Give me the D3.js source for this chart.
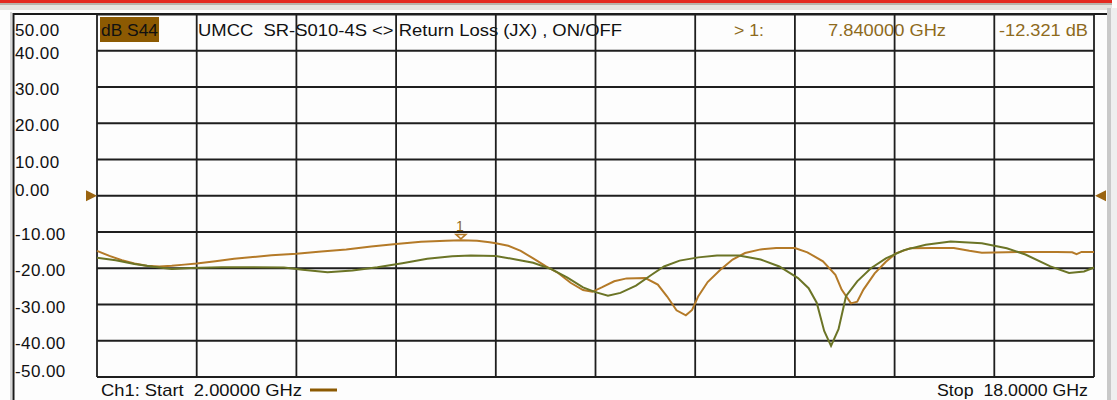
<!DOCTYPE html>
<html>
<head>
<meta charset="utf-8">
<script src="https://cdn.jsdelivr.net/npm/d3@7"></script>
<style>
  body { margin: 0; background: #fdfdfd; }
  svg text { font-family: "Liberation Sans", Arial, sans-serif; white-space: pre; }
</style>
</head>
<body>
<script>
// S44 return loss, two traces, 2 - 18 GHz

var w = 1117;
var h = 400;

// trace 1 (brown, active) - frequency in GHz and level in dB
var freqA = [2.0, 2.2, 2.4, 2.6, 2.8, 3.0, 3.2, 3.4, 3.6, 3.9, 4.2, 4.5, 4.8, 5.2, 5.6, 6.0, 6.4, 6.8, 7.2, 7.6, 7.84,
  8.1, 8.3, 8.4, 8.6, 8.8, 9.0, 9.2, 9.4, 9.6, 9.8, 9.95, 10.1, 10.3, 10.5, 10.8, 11.0, 11.15, 11.3, 11.45, 11.55,
  11.65, 11.8, 12.0, 12.2, 12.4, 12.65, 12.9, 13.2, 13.4, 13.65, 13.85, 13.95, 14.1, 14.2, 14.3, 14.48, 14.66,
  14.82, 15.05, 15.4, 15.75, 16.0, 16.2, 16.8, 17.4, 17.65, 17.72, 17.8, 18.0];
var dbA = [-15.2, -16.6, -17.8, -18.7, -19.3, -19.5, -19.3, -19.0, -18.7, -18.1, -17.4, -16.9, -16.4, -16.0, -15.4,
  -14.8, -14.0, -13.3, -12.7, -12.4, -12.3, -12.4, -12.8, -13.1, -13.8, -15.2, -17.3, -19.4, -21.3, -24.0, -26.0,
  -26.5, -25.3, -23.6, -22.8, -22.7, -24.5, -27.8, -31.6, -33.0, -31.5, -27.7, -23.8, -20.5, -17.6, -15.8, -14.8,
  -14.4, -14.4, -15.6, -18.1, -21.8, -25.9, -29.7, -29.2, -25.9, -21.4, -18.2, -15.9, -14.5, -14.4, -14.4, -15.2,
  -15.7, -15.5, -15.5, -15.6, -16.1, -15.5, -15.5];

// trace 2 (olive)
var freqB = [2.0, 2.3, 2.6, 2.9, 3.2, 3.5, 4.0, 4.5, 5.0, 5.3, 5.7, 6.1, 6.5, 6.9, 7.3, 7.7, 8.0, 8.4, 8.7, 9.0,
  9.3, 9.55, 9.8, 10.0, 10.2, 10.4, 10.65, 10.9, 11.1, 11.35, 11.65, 11.95, 12.3, 12.65, 12.95, 13.25, 13.42,
  13.55, 13.67, 13.78, 13.9, 14.02, 14.2, 14.42, 14.66, 14.95, 15.3, 15.7, 16.2, 16.6, 16.9, 17.3, 17.6, 17.84, 18.0];
var dbB = [-17.1, -17.8, -18.8, -19.6, -20.2, -19.9, -19.7, -19.7, -19.8, -20.4, -21.1, -20.6, -19.7, -18.6, -17.4,
  -16.7, -16.5, -16.6, -17.5, -18.5, -20.3, -22.6, -25.3, -26.6, -27.6, -26.8, -24.8, -21.8, -19.5, -17.9, -17.0,
  -16.5, -16.5, -17.6, -19.5, -22.7, -25.5, -29.5, -37.3, -41.4, -36.8, -27.7, -23.6, -20.0, -17.3, -15.0, -13.5,
  -12.6, -13.1, -14.5, -16.2, -19.5, -21.3, -20.9, -19.8];

// axis ticks and labels
var yTicks = [50, 40, 30, 20, 10, 0, -10, -20, -30, -40, -50];
var yTickLabels = ["50.00", "40.00", "30.00", "20.00", "10.00", "0.00", "-10.00", "-20.00", "-30.00", "-40.00", "-50.00"];
var xTicks = [2.0, 3.6, 5.2, 6.8, 8.4, 10.0, 11.6, 13.2, 14.8, 16.4, 18.0];

// marker
var markerFreq = 7.84;
var markerDb = -12.321;

// header strings
var traceName = "dB S44";
var titleText = "UMCC  SR-S010-4S <> Return Loss (JX) , ON/OFF";
var markerLabel = "> 1:";
var markerFreqText = "7.840000 GHz";
var markerDbText = "-12.321 dB";
var startText = "Ch1: Start  2.00000 GHz";
var stopText = "Stop  18.0000 GHz";

var brown = "#b47a28";
var olive = "#6b7426";
var textBrown = "#8e6a1c";

var svg = d3.select("body")
  .append("svg")
  .attr("width", w)
  .attr("height", h);

var x = d3.scaleLinear().domain([2, 18]).range([97, 1094]);
var y = d3.scaleLinear().domain([-50, 50]).range([377, 14.5]);

// window chrome
svg.append("rect").attr("x", 0).attr("y", 0).attr("width", 1112).attr("height", 3).attr("fill", "#e42a20");
svg.append("rect").attr("x", 0).attr("y", 3).attr("width", 1112).attr("height", 2).attr("fill", "#b9b3aa");
svg.append("rect").attr("x", 0).attr("y", 5).attr("width", 1112).attr("height", 5).attr("fill", "#e6e4e0");
svg.append("rect").attr("x", 1107).attr("y", 8).attr("width", 4).attr("height", h).attr("fill", "#c9c9c9");
svg.append("rect").attr("x", 1111).attr("y", 8).attr("width", 6).attr("height", h).attr("fill", "#efefef");
svg.append("line").attr("x1", 11).attr("x2", 11).attr("y1", 12).attr("y2", h)
  .attr("stroke", "#b0b0b0").attr("stroke-width", 1);
svg.append("line").attr("x1", 13.5).attr("x2", 13.5).attr("y1", 13).attr("y2", h)
  .attr("stroke", "#1a1a1a").attr("stroke-width", 2);
svg.append("line").attr("x1", 13).attr("x2", 1107).attr("y1", 14).attr("y2", 14)
  .attr("stroke", "#1a1a1a").attr("stroke-width", 2);

// trace name box
svg.append("rect")
  .attr("x", 100).attr("y", 17).attr("width", 59).attr("height", 25)
  .attr("fill", "#8c5a02");

// header texts (drawn under the grid like the analyzer does)
var header = [
  {t: traceName, x: 101, len: 57, c: "#111"},
  {t: titleText, x: 198, len: 424, c: "#111"},
  {t: markerLabel, x: 734, len: 30, c: textBrown},
  {t: markerFreqText, x: 828, len: 118, c: textBrown},
  {t: markerDbText, x: 999, len: 89, c: textBrown}
];
svg.selectAll("text.header")
  .data(header)
  .enter()
  .append("text")
  .attr("class", "header")
  .attr("x", function(d){ return d.x; })
  .attr("y", 36)
  .attr("font-size", 17)
  .attr("textLength", function(d){ return d.len; })
  .attr("lengthAdjust", "spacingAndGlyphs")
  .attr("fill", function(d){ return d.c; })
  .text(function(d){ return d.t; });

// grid
svg.selectAll("line.vgrid")
  .data(xTicks)
  .enter()
  .append("line")
  .attr("class", "vgrid")
  .attr("x1", function(d){ return x(d); })
  .attr("x2", function(d){ return x(d); })
  .attr("y1", y(50))
  .attr("y2", y(-50))
  .attr("stroke", "#1e1e1e")
  .attr("stroke-width", 1.8);

svg.selectAll("line.hgrid")
  .data(yTicks)
  .enter()
  .append("line")
  .attr("class", "hgrid")
  .attr("x1", x(2))
  .attr("x2", x(18))
  .attr("y1", function(d){ return y(d); })
  .attr("y2", function(d){ return y(d); })
  .attr("stroke", "#1e1e1e")
  .attr("stroke-width", 1.8);

// y labels, left of the grid
var labelY = function(v) {
  var yy = y(v) + 1.5;
  if (v === 0) { yy -= 8; }
  return Math.max(29, Math.min(370, yy));
};
svg.selectAll("text.ylab")
  .data(yTicks)
  .enter()
  .append("text")
  .attr("class", "ylab")
  .attr("x", 15)
  .attr("y", function(d){ return labelY(d) + 6.5; })
  .attr("font-size", 17)
  .attr("letter-spacing", 0.4)
  .attr("fill", "#111")
  .text(function(d, i){ return yTickLabels[i]; });

// traces
var line = d3.line()
  .x(function(d){ return x(d[0]); })
  .y(function(d){ return y(d[1]); });

svg.append("path")
  .datum(d3.zip(freqA, dbA))
  .attr("d", line)
  .attr("fill", "none")
  .attr("stroke", brown)
  .attr("stroke-width", 2);

svg.append("path")
  .datum(d3.zip(freqB, dbB))
  .attr("d", line)
  .attr("fill", "none")
  .attr("stroke", olive)
  .attr("stroke-width", 2);

// marker 1
var mx = x(markerFreq);
var my = y(markerDb);
svg.append("path")
  .attr("d", "M" + (mx - 5) + "," + (my - 6) + "L" + (mx + 5) + "," + (my - 6) + "L" + mx + "," + (my - 1.5) + "Z")
  .attr("fill", "#fff")
  .attr("stroke", brown)
  .attr("stroke-width", 1.5);
svg.append("text")
  .attr("x", mx - 1)
  .attr("y", my - 9)
  .attr("text-anchor", "middle")
  .attr("font-size", 14)
  .attr("fill", textBrown)
  .text("1");

// reference level arrows
svg.append("path")
  .attr("d", "M86," + (y(0) - 5.5) + "L97," + y(0) + "L86," + (y(0) + 5.5) + "Z")
  .attr("fill", "#9a6410");
svg.append("path")
  .attr("d", "M1106," + (y(0) - 5.5) + "L1095," + y(0) + "L1106," + (y(0) + 5.5) + "Z")
  .attr("fill", "#9a6410");

// footer
svg.append("text")
  .attr("x", 101)
  .attr("y", 396)
  .attr("font-size", 17)
  .attr("textLength", 201)
  .attr("lengthAdjust", "spacingAndGlyphs")
  .attr("fill", "#111")
  .text(startText);
svg.append("line")
  .attr("x1", 310).attr("x2", 337).attr("y1", 390).attr("y2", 390)
  .attr("stroke", "#8c5a02").attr("stroke-width", 3);
svg.append("text")
  .attr("x", 937)
  .attr("y", 396)
  .attr("font-size", 17)
  .attr("textLength", 151)
  .attr("lengthAdjust", "spacingAndGlyphs")
  .attr("fill", "#111")
  .text(stopText);
</script>
</body>
</html>
